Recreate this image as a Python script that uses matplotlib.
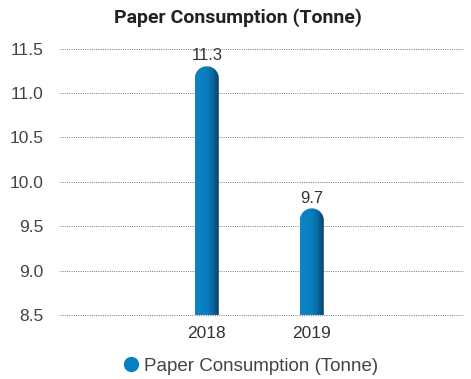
import numpy as np
import matplotlib.pyplot as plt
from matplotlib.path import Path
from matplotlib.patches import PathPatch
from matplotlib.lines import Line2D
from matplotlib.colors import LinearSegmentedColormap

years = ["2018", "2019"]
tonnes = [11.3, 9.7]
yticks = [8.5, 9.0, 9.5, 10.0, 10.5, 11.0, 11.5]
series_name = "Paper Consumption (Tonne)"

blue = "#0a80c3"
plt.rcParams['font.family'] = ['Liberation Sans', 'DejaVu Sans']

fig = plt.figure(figsize=(4.71, 3.79), dpi=100)
ax = fig.add_axes([0.127, 0.169, 0.856, 0.703])
x = np.arange(len(years))
ax.set_xlim(-1.4, 2.44)
ax.set_ylim(yticks[0], yticks[-1])

# convert pixel sizes to data units so the cap comes out round
bbox = ax.get_window_extent()
px_x = bbox.width / (2.44 + 1.4)
px_y = bbox.height / (yticks[-1] - yticks[0])
rx = 12 / px_x
ry = 12 / px_y

shade = LinearSegmentedColormap.from_list(
    "bar", [(0, "#0c84c6"), (0.5, "#0a7dbe"), (0.75, "#0867a0"), (1, "#0a4266")])
grad = np.linspace(0, 1, 64).reshape(1, -1)

base = yticks[0]
for xi, v in zip(x, tonnes):
    t = np.linspace(np.pi, 0, 30)
    verts = [(xi - rx, base), (xi - rx, v - ry)]
    verts += list(zip(xi + rx * np.cos(t), v - ry + ry * np.sin(t)))
    verts += [(xi + rx, base), (xi - rx, base)]
    codes = [Path.MOVETO] + [Path.LINETO] * (len(verts) - 2) + [Path.CLOSEPOLY]
    patch = PathPatch(Path(verts, codes), facecolor="none", edgecolor="none")
    ax.add_patch(patch)
    im = ax.imshow(grad, cmap=shade, aspect="auto", extent=(xi - rx, xi + rx, base, v),
                   zorder=3, interpolation="bicubic")
    im.set_clip_path(patch)
    ax.annotate(f"{v}", (xi, v), xytext=(0, 2), textcoords="offset points",
                ha="center", va="bottom", fontsize=12, color="#333333")

for y in yticks:
    ax.axhline(y, color="#777777", linestyle=(0, (1, 1.3)), lw=0.7,
               clip_on=False, zorder=1)

ax.set_xlim(-1.4, 2.44)
ax.set_ylim(yticks[0], yticks[-1])
ax.set_yticks(yticks)
ax.set_yticklabels([f"{y:.1f}" for y in yticks])
ax.set_xticks(x)
ax.set_xticklabels(years)
ax.tick_params(axis="y", length=0, pad=12, labelsize=12.5, labelcolor="#444444")
ax.tick_params(axis="x", length=0, pad=8, labelsize=12.5, labelcolor="#333333")
for s in ax.spines.values():
    s.set_visible(False)

fig.text(0.505, 1 - 18 / 379, series_name, ha="center", va="center",
         fontsize=14, fontweight="bold", color="#222222", family="Roboto")

handle = Line2D([], [], marker="o", color=blue, linestyle="", markersize=10)
fig.legend([handle], [series_name], loc="center", bbox_to_anchor=(0.52, 1 - 366 / 379),
           frameon=False, fontsize=13.5, handletextpad=-0.3, labelcolor="#444444")

fig.savefig("out.png", dpi=100)
